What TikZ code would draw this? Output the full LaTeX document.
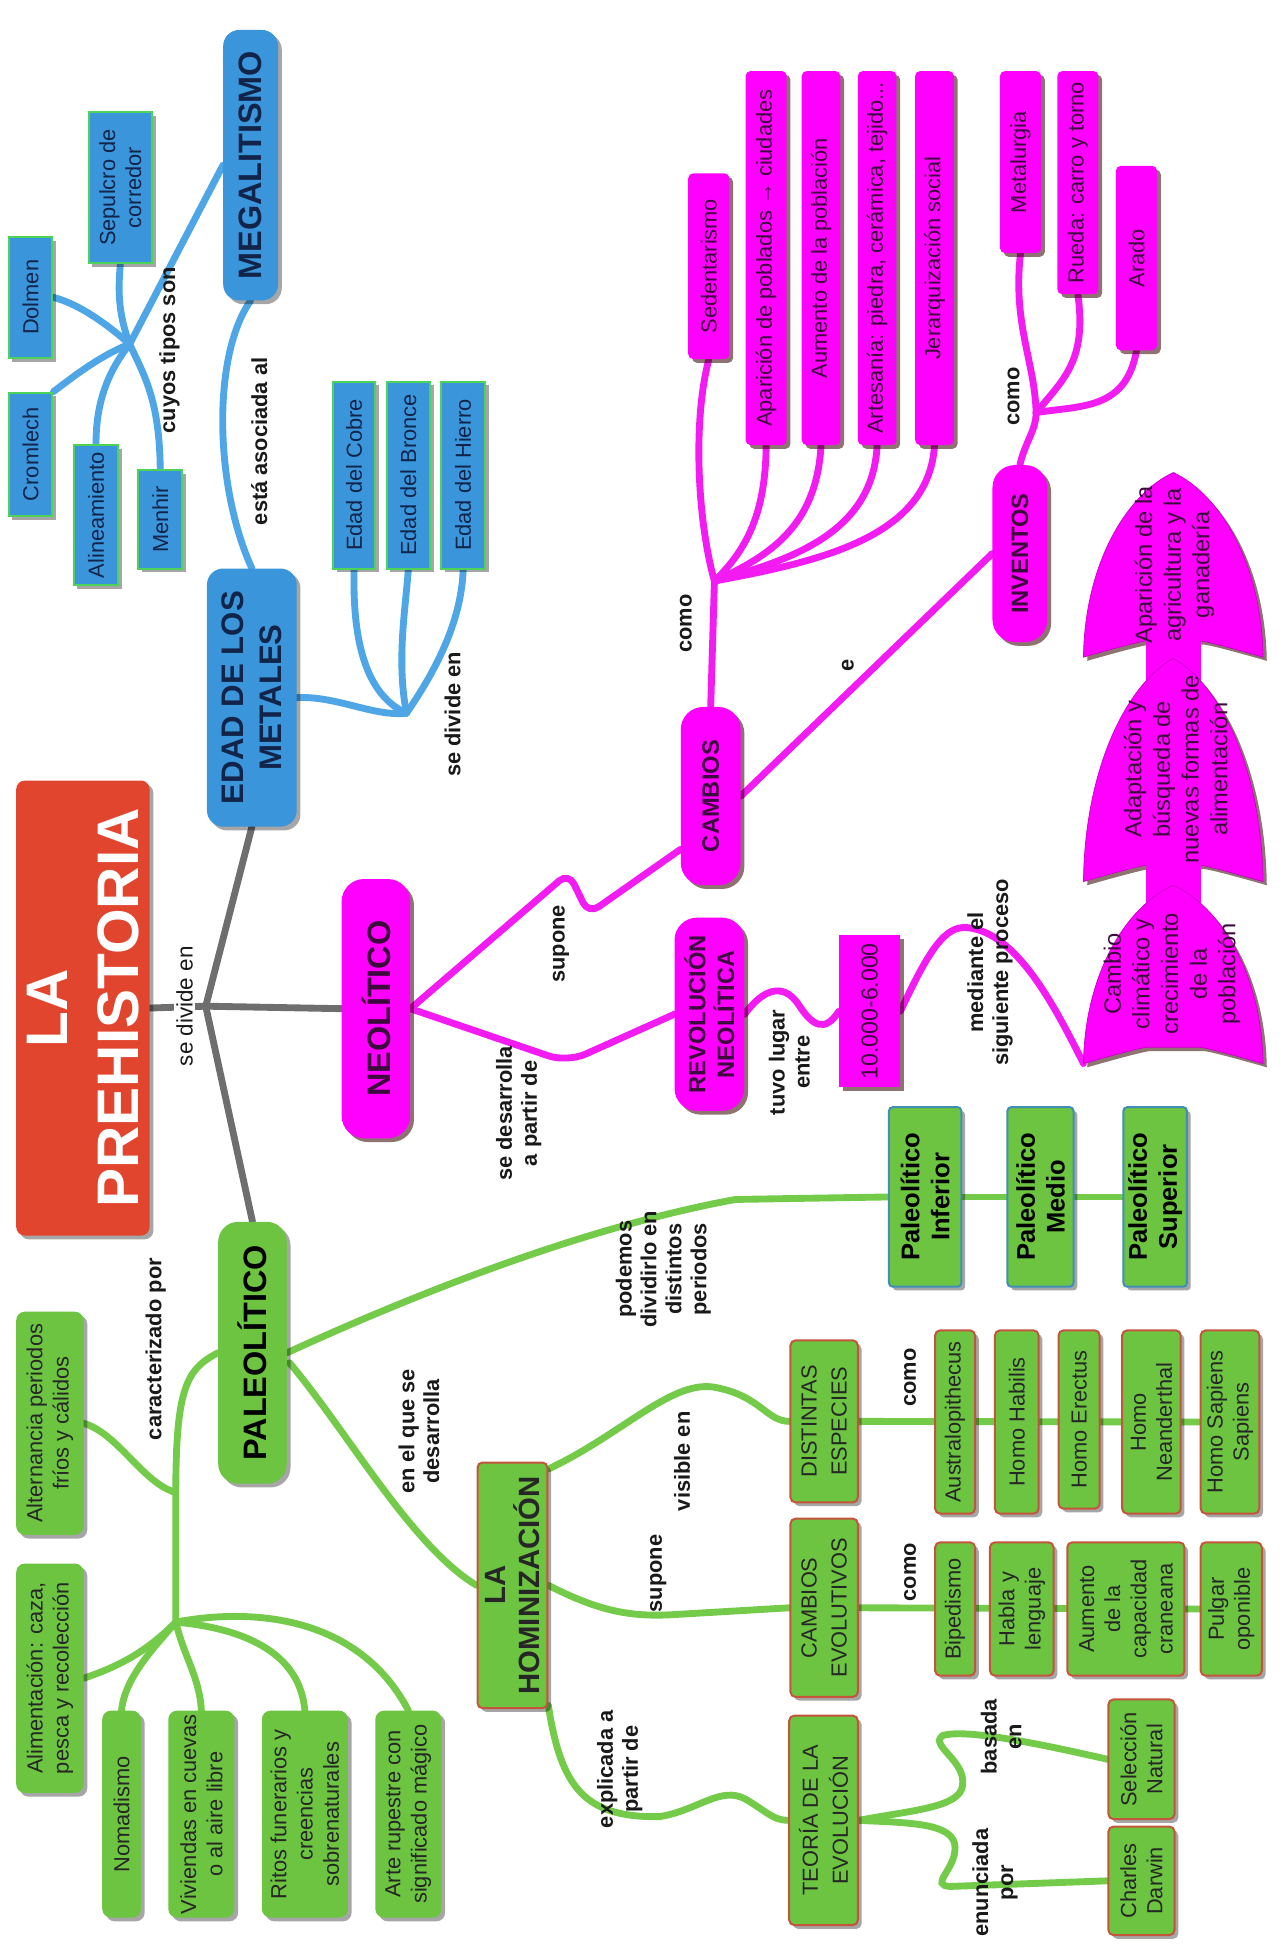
\documentclass[tikz,border=0pt]{standalone}
\usepackage{fontspec}
\setmainfont{Liberation Sans}
\usetikzlibrary{shadows,calc}
\pgfdeclarelayer{bg}
\pgfsetlayers{bg,main}
\definecolor{cred}{HTML}{E2452E}
\definecolor{cblue}{HTML}{3A95DA}
\definecolor{cbline}{HTML}{4FA6E6}
\definecolor{cbborder}{HTML}{4DD35A}
\definecolor{cbtext}{HTML}{12244A}
\definecolor{cmag}{HTML}{FF00FF}
\definecolor{cmline}{HTML}{F21BF2}
\definecolor{cmtext}{HTML}{3D0A3D}
\definecolor{cgreen}{HTML}{6CC441}
\definecolor{cgline}{HTML}{74CB4A}
\definecolor{cgred}{HTML}{C4553C}
\definecolor{cgteal}{HTML}{3F8FB5}
\definecolor{cgray}{HTML}{6E6E6E}
\newcommand\fs[2]{\fontsize{#1}{#2}\selectfont}
\newcommand\nb[7]{\node[#1, minimum width={(#6)-(#4)}, minimum height={(#5)-(#3)}] (#2) at ({((#3)+(#5))/2},{((#4)+(#6))/2}) {#7};}
\newcommand\ogive[2]{\path[ogv] (941,#1) .. controls (903,{#1+0.12*(#2-#1)}) and (870,{#1+0.5*(#2-#1)}) .. (869,#2) .. controls (890,#2-6) and (912,#2-12) .. (919,#2-13) -- (963,#2-13) .. controls (970,#2-12) and (992,#2-6) .. (1013,#2) .. controls (1012,{#1+0.5*(#2-#1)}) and (979,{#1+0.12*(#2-#1)}) .. (941,#1) -- cycle;}
\tikzset{
 shd/.style={drop shadow={shadow xshift=3pt, shadow yshift=-3pt, opacity=.35, fill=black}},
 shdm/.style={drop shadow={shadow xshift=3pt, shadow yshift=-3pt, opacity=.55, fill=black!80!red}},
 base/.style={rotate=90, inner sep=1pt, align=center, font=\fs{17.5}{21}},
 redbox/.style={base, fill=cred, rounded corners=7pt, text=white, font=\fs{47}{57}\bfseries, shd},
 bluehead/.style={base, fill=cblue, rounded corners=13pt, text=cbtext, font=\fs{25}{31}\bfseries, shd},
 blueleaf/.style={base, fill=cblue, draw=cbborder, line width=1.6pt, text=cbtext, shd},
 maghead/.style={base, fill=cmag, rounded corners=18pt, text=cmtext, font=\fs{19}{23}\bfseries, shdm},
 magleaf/.style={base, fill=cmag, rounded corners=4pt, text=cmtext, shdm},
 magrect/.style={base, fill=cmag, text=cmtext, font=\fs{18.5}{22}, shdm},
 greenhead/.style={base, fill=cgreen, rounded corners=16pt, text=black, font=\fs{26}{30}\bfseries, shd},
 greenleaf/.style={base, fill=cgreen, rounded corners=7pt, text=black!85, shd},
 greenred/.style={base, fill=cgreen, draw=cgred, line width=1.6pt, rounded corners=4pt, text=black!85, shd},
 greenteal/.style={base, fill=cgreen, draw=cgteal, line width=1.6pt, rounded corners=3pt, text=black, font=\fs{20.5}{24}\bfseries, shd},
 lab/.style={rotate=90, inner sep=0pt, align=center, font=\fs{17.5}{20}\bfseries, text=black!90},
 shapetext/.style={rotate=90, inner sep=0pt, align=center, font=\fs{19}{23}, text=cmtext},
 ogv/.style={fill=cmag, draw=cmag!60!violet, line width=0.6pt, shdm},
 conn/.style={line width=5.5pt, line cap=round},
 gline/.style={conn, draw=cgray},
 bline/.style={conn, draw=cbline},
 mline/.style={conn, draw=cmline},
 vline/.style={conn, draw=cgline},
}
\begin{document}
\begin{tikzpicture}[x=1pt,y=-1pt]
\useasboundingbox (0,0) rectangle (1032,1568);
\begin{pgfonlayer}{bg}
\fill[white] (0,0) rectangle (1032,1568);
\end{pgfonlayer}

% ---------- main title
\nb{redbox}{prehist}{13}{626}{120}{991}{LA\\PREHISTORIA}

% ---------- blue cluster
\nb{bluehead, font=\fs{26}{30}\bfseries}{megal}{179}{24}{223}{241}{MEGALITISMO}
\nb{bluehead}{edad}{166}{456}{238}{663}{EDAD DE LOS\\METALES}
\nb{blueleaf}{sepul}{71}{90}{122}{211}{Sepulcro de\\corredor}
\nb{blueleaf}{dolmen}{7}{190}{42}{287}{Dolmen}
\nb{blueleaf}{cromlech}{7}{315}{42}{414}{Cromlech}
\nb{blueleaf}{alinea}{59}{357}{95}{469}{Alineamiento}
\nb{blueleaf}{menhir}{111}{377}{146}{456}{Menhir}
\nb{blueleaf}{cobre}{267}{306}{301}{456}{Edad del Cobre}
\nb{blueleaf}{bronce}{310}{306}{345}{456}{Edad del Bronce}
\nb{blueleaf}{hierro}{354}{306}{389}{456}{Edad del Hierro}

% ---------- magenta cluster
\nb{maghead, font=\fs{26}{30}\bfseries}{neol}{274}{705}{329}{913}{NEOLÍTICO}
\nb{maghead}{cambios}{546}{567}{594}{710}{CAMBIOS}
\nb{maghead}{invent}{796}{373}{840}{515}{INVENTOS}
\nb{maghead}{revol}{541}{736}{597}{891}{REVOLUCIÓN\\NEOLÍTICA}
\nb{magrect}{fecha}{673}{750}{722}{872}{10.000-6.000}
\nb{magleaf}{sedent}{552}{139}{585}{288}{Sedentarismo}
\nb{magleaf}{apar}{598}{57}{631}{357}{Aparición de poblados → ciudades}
\nb{magleaf}{aument}{643}{57}{674}{357}{Aumento de la población}
\nb{magleaf}{artes}{688}{57}{719}{357}{Artesanía: piedra, cerámica, tejido...}
\nb{magleaf}{jerar}{734}{57}{765}{357}{Jerarquización social}
\nb{magleaf}{metal}{802}{57}{835}{203}{Metalurgia}
\nb{magleaf}{rueda}{848}{57}{881}{236}{Rueda: carro y torno}
\nb{magleaf}{arado}{895}{133}{928}{281}{Arado}

% process shapes
\ogive{379}{527}
\fill[cmag] (919,513) rectangle (963,553);
\ogive{528}{707}
\fill[cmag] (919,693) rectangle (963,733);
\ogive{710}{853}
\coordinate (tip3) at (869,853);
\node[shapetext] (sh1) at (942,453) {Aparición de la\\agricultura y la\\ganadería};
\node[shapetext] (sh2) at (943,617) {Adaptación y\\búsqueda de\\nuevas formas de\\alimentación};
\node[shapetext] (sh3) at (940,781) {Cambio\\climático y\\crecimiento\\de la\\población};

% ---------- green cluster
\nb{greenhead}{paleo}{175}{980}{230}{1190}{PALEOLÍTICO}
\nb{greenleaf}{altern}{13}{1052}{67}{1231}{Alternancia periodos\\fríos y cálidos}
\nb{greenleaf}{aliment}{13}{1254}{67}{1438}{Alimentación: caza,\\pesca y recolección}
\nb{greenleaf}{nomad}{82}{1372}{113}{1538}{Nomadismo}
\nb{greenleaf}{vivien}{135}{1372}{188}{1538}{Viviendas en cuevas\\o al aire libre}
\nb{greenleaf}{ritos}{210}{1372}{279}{1538}{Ritos funerarios y\\creencias\\sobrenaturales}
\nb{greenleaf}{arte}{301}{1372}{354}{1538}{Arte rupestre con\\significado mágico}
\nb{greenred, font=\fs{23.5}{27}\bfseries}{homin}{383}{1173}{439}{1370}{LA\\HOMINIZACIÓN}
\nb{greenred, font=\fs{17.5}{24}}{distin}{634}{1075}{688}{1205}{DISTINTAS\\ESPECIES}
\nb{greenred, font=\fs{17.5}{24}}{cambev}{634}{1218}{688}{1361}{CAMBIOS\\EVOLUTIVOS}
\nb{greenred, font=\fs{17.5}{24}}{teoria}{633}{1376}{688}{1544}{TEORÍA DE LA\\EVOLUCIÓN}
\nb{greenred}{austra}{750}{1067}{782}{1214}{Australopithecus}
\nb{greenred}{habilis}{798}{1067}{833}{1214}{Homo Habilis}
\nb{greenred}{erectus}{849}{1067}{882}{1210}{Homo Erectus}
\nb{greenred}{neand}{900}{1067}{947}{1214}{Homo\\Neanderthal}
\nb{greenred}{sapiens}{963}{1067}{1010}{1214}{Homo Sapiens\\Sapiens}
\nb{greenred}{biped}{750}{1237}{782}{1344}{Bipedismo}
\nb{greenred}{habla}{794}{1237}{845}{1344}{Habla y\\lenguaje}
\nb{greenred}{craneo}{856}{1237}{950}{1344}{Aumento\\de la\\capacidad\\craneana}
\nb{greenred}{pulgar}{963}{1237}{1012}{1344}{Pulgar\\oponible}
\nb{greenred}{selec}{889}{1363}{942}{1459}{Selección\\Natural}
\nb{greenred}{darwin}{889}{1465}{942}{1552}{Charles\\Darwin}
\nb{greenteal}{palinf}{713}{888}{771}{1032}{Paleolítico\\Inferior}
\nb{greenteal}{palmed}{808}{888}{861}{1032}{Paleolítico\\Medio}
\nb{greenteal}{palsup}{901}{888}{952}{1032}{Paleolítico\\Superior}

% ---------- hubs
\coordinate (hg) at (165,807);
\coordinate (hb1) at (104,276);
\coordinate (hb2) at (326,572);
\coordinate (hm1) at (573,466);
\coordinate (hm2) at (831,331);
\coordinate (hv) at (141,1301);
\coordinate (hv2) at (141,1197);

% ---------- labels
\node[lab, font=\fs{18}{20}, fill=white, inner sep=2pt] (lg) at (148,807) {se divide en};
\node[lab] (l1) at (136,281) {cuyos tipos son};
\node[lab] (l2) at (208,354) {está asociada al};
\node[lab] (l3) at (363,573) {se divide en};
\node[lab] (l4) at (450,757) {supone};
\node[lab] (l5) at (416,893) {se desarrolla\\a partir de};
\node[lab] (l6) at (550,500) {como};
\node[lab] (l7) at (680,534) {e};
\node[lab] (l8) at (813,318) {como};
\node[lab] (l9) at (633,852) {tuvo lugar\\entre};
\node[lab] (l10) at (794,780) {mediante el\\siguiente proceso};
\node[lab] (l11) at (125,1082) {caracterizado por};
\node[lab] (l12) at (336,1148) {en el que se\\desarrolla};
\node[lab] (l13) at (532,1018) {podemos\\dividirlo en\\distintos\\periodos};
\node[lab] (l14) at (547,1172) {visible en};
\node[lab] (l15) at (528,1262) {supone};
\node[lab] (l16) at (497,1419) {explicada a\\partir de};
\node[lab] (l17) at (730,1105) {como};
\node[lab] (l18) at (730,1261) {como};
\node[lab] (l19) at (803,1393) {basada\\en};
\node[lab] (l20) at (798,1510) {enunciada\\por};

% ---------- connectors
\begin{pgfonlayer}{bg}
\draw[gline] (prehist.south) -- (hg);
\draw[gline] (hg) -- (edad.west);
\draw[gline] (hg) -- (neol.north);
\draw[gline] (hg) -- (paleo.east);

\draw[bline] (megal.north) -- (hb1);
\draw[bline] (hb1) .. controls (94,250) and (95,230) .. (sepul.west);
\draw[bline] (hb1) .. controls (80,255) and (60,243) .. (dolmen.south);
\draw[bline] (hb1) .. controls (80,285) and (55,305) .. (cromlech.south east);
\draw[bline] (hb1) .. controls (85,300) and (77,325) .. (alinea.east);
\draw[bline] (hb1) .. controls (115,300) and (128,320) .. (menhir.east);
\draw[bline] (megal.west) .. controls (170,285) and (172,390) .. (edad.east);
\draw[bline] (edad.south) .. controls (270,558) and (300,575) .. (hb2);
\draw[bline] (hb2) .. controls (288,555) and (283,500) .. (cobre.west);
\draw[bline] (hb2) .. controls (318,530) and (325,490) .. (bronce.west);
\draw[bline] (hb2) .. controls (348,540) and (370,500) .. (hierro.west);

\draw[mline, rounded corners=10pt] (neol.south) -- (456,700) -- (472,733) -- ($(cambios.north west)+(0,-29)$);
\draw[mline, rounded corners=16pt] (neol.south) -- (455,852) -- (revol.north);
\draw[mline] (revol.south) .. controls (612,793) and (628,788) .. (640,805) .. controls (652,824) and (662,828) .. (fecha.north);
\draw[mline] (fecha.south) .. controls (745,762) and (758,742) .. (776,744) .. controls (815,748) and (845,805) .. (tip3);
\draw[mline] (cambios.east) -- (hm1);
\draw[mline] (hm1) .. controls (560,420) and (555,340) .. (sedent.west);
\draw[mline] (hm1) .. controls (600,440) and (614,410) .. (apar.west);
\draw[mline] (hm1) .. controls (620,445) and (655,420) .. (aument.west);
\draw[mline] (hm1) .. controls (640,448) and (700,425) .. (artes.west);
\draw[mline] (hm1) .. controls (660,450) and (745,430) .. (jerar.west);
\draw[mline] (cambios.south) -- (invent.north);
\draw[mline] (invent.east) .. controls (822,355) and (831,345) .. (hm2);
\draw[mline] (hm2) .. controls (830,290) and (812,260) .. (metal.west);
\draw[mline] (hm2) .. controls (852,305) and (872,290) .. (rueda.west);
\draw[mline] (hm2) .. controls (865,325) and (903,330) .. (arado.west);

\draw[vline] (paleo.north) .. controls (150,1098) and (141,1112) .. (hv2) -- (hv);
\draw[vline] (hv2) .. controls (115,1190) and (95,1150) .. (altern.south);
\draw[vline] (hv) .. controls (120,1322) and (100,1335) .. (aliment.south);
\draw[vline] (hv) .. controls (125,1320) and (100,1345) .. (nomad.east);
\draw[vline] (hv) .. controls (148,1330) and (160,1345) .. (vivien.east);
\draw[vline] (hv) .. controls (185,1305) and (240,1320) .. (ritos.east);
\draw[vline] (hv) .. controls (210,1288) and (290,1300) .. (arte.east);
\draw[vline] (paleo.south) .. controls (350,1030) and (480,982) .. (590,962) -- (palinf.north);
\draw[vline] (palinf.south) -- (palmed.north);
\draw[vline] (palmed.south) -- (palsup.north);
\draw[vline] ($(paleo.south)+(2,8)$) .. controls (280,1150) and (330,1240) .. (homin.north);
\draw[vline] ($(homin.south east)+(0,6)$) .. controls (500,1150) and (540,1105) .. (575,1113) .. controls (610,1120) and (615,1140) .. (distin.north);
\draw[vline] (homin.south) .. controls (480,1292) and (505,1297) .. (540,1295) -- (cambev.north);
\draw[vline] ($(homin.south west)+(0,-3)$) .. controls (450,1435) and (470,1458) .. (529,1457) .. controls (560,1452) and (578,1432) .. (598,1443) .. controls (615,1453) and (620,1460) .. (teoria.north);
\draw[vline] (distin.south) -- (sapiens.north);
\draw[vline] (cambev.south) -- (pulgar.north);
\draw[vline] (teoria.south) .. controls (730,1452) and (770,1450) .. (772,1432) .. controls (775,1412) and (745,1400) .. (756,1392) .. controls (775,1386) and (840,1400) .. (selec.north);
\draw[vline] (teoria.south) .. controls (730,1462) and (766,1462) .. (766,1482) .. controls (766,1500) and (745,1512) .. (762,1513) -- (darwin.north);
\end{pgfonlayer}
\end{tikzpicture}
\end{document}
